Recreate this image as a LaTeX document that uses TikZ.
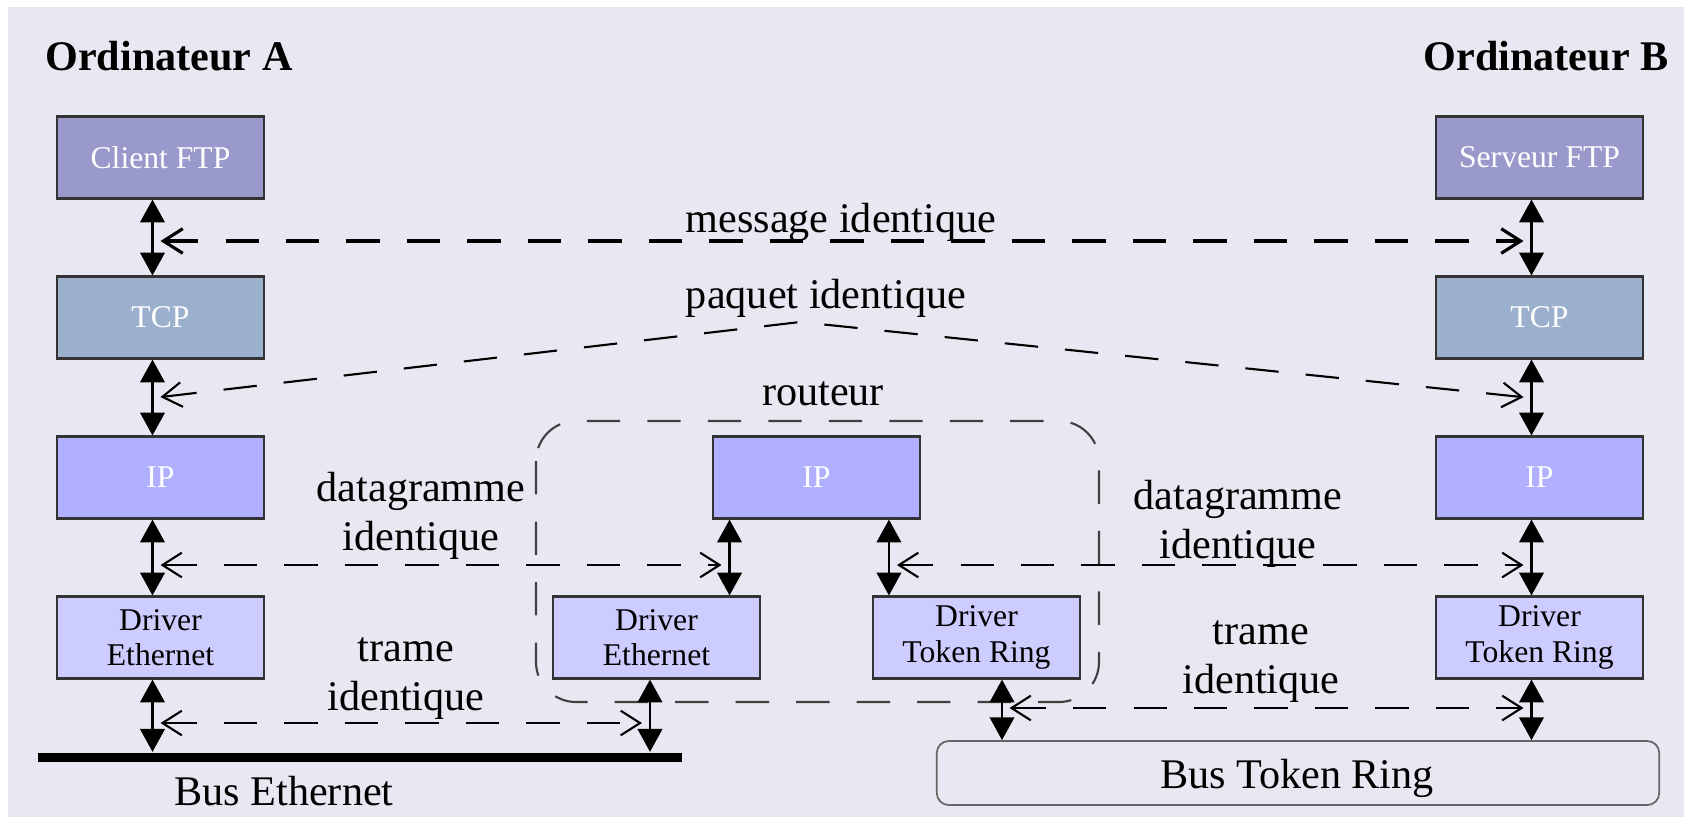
\documentclass[tikz,border=0pt]{standalone}
\usepackage{fontspec}
\setmainfont{Liberation Serif}
\usetikzlibrary{arrows.meta}

\definecolor{fond}{RGB}{232,232,242}
\definecolor{appli}{RGB}{153,153,204}
\definecolor{transp}{RGB}{155,176,204}
\definecolor{reseau}{RGB}{176,176,255}
\definecolor{liaison}{RGB}{204,204,255}

\begin{document}
\begin{tikzpicture}[x=0.01cm, y=-0.01cm,
  couche/.style={draw=black!80, line width=0.6pt, minimum width=2.07cm,
    minimum height=0.82cm, inner sep=0pt, align=center,
    font=\fontsize{9}{10}\selectfont},
  appl/.style={couche, fill=appli, text=white},
  tcp/.style={couche, fill=transp, text=white},
  ip/.style={couche, fill=reseau, text=white},
  drv/.style={couche, fill=liaison, text=black},
  lbl/.style={font=\fontsize{12}{13.8}\selectfont, align=center, inner sep=0pt},
  titre/.style={font=\bfseries\fontsize{12}{14}\selectfont, inner sep=0pt},
  pile/.style={{Triangle[length=6.5pt,width=7pt]}-{Triangle[length=6.5pt,width=7pt]},
    line width=0.6pt},
  echange/.style={{Straight Barb[length=5.5pt,width=7pt]}-{Straight Barb[length=5.5pt,width=7pt]},
    line width=0.6pt, dash pattern=on 9.5pt off 7.7pt,
    shorten <=0.08cm, shorten >=0.08cm}
]

% Background
\fill[white] (0,0) rectangle (1684,817);
\fill[fond] (8,7) rectangle (1684,817);
\useasboundingbox (0,0) rectangle (1684,817);

% Router outline
\draw[black!75, line width=0.6pt, dash pattern=on 9.5pt off 7.7pt,
  rounded corners=0.4cm] (536,421) rectangle (1099,702);
\node[lbl, anchor=base] (routeur) at (823,405) {routeur};

% Ordinateur A
\node[titre, anchor=base] (ordA) at (169,70) {Ordinateur A};
\node[appl] (ftpA) at (160.5,157.5) {Client FTP};
\node[tcp]  (tcpA) at (160.5,317.5) {TCP};
\node[ip]   (ipA)  at (160.5,477.5) {IP};
\node[drv]  (drvA) at (160.5,637.5) {Driver\\Ethernet};

% Ordinateur B
\node[titre, anchor=base] (ordB) at (1546,70) {Ordinateur B};
\node[appl] (ftpB) at (1539.5,157.5) {Serveur FTP};
\node[tcp]  (tcpB) at (1539.5,317.5) {TCP};
\node[ip]   (ipB)  at (1539.5,477.5) {IP};
\node[drv]  (drvB) at (1539.5,637.5) {Driver\\Token Ring};

% Router layers
\node[ip]  (ipR)   at (816.5,477.5) {IP};
\node[drv] (drvRE) at (656.5,637.5) {Driver\\Ethernet};
\node[drv] (drvRT) at (976.5,637.5) {Driver\\Token Ring};

% Buses
\node[fill=black, minimum width=6.44cm, minimum height=0.09cm, inner sep=0pt]
  (busE) at (360,757) {};
\node[lbl, anchor=base] (busElbl) at (284,805) {Bus Ethernet};
\node[draw=black!60, line width=0.5pt, fill=fond, rounded corners=0.12cm,
  minimum width=7.22cm, minimum height=0.64cm] (busT) at (1298,773) {};
\node[lbl, anchor=base] (busTlbl) at (1297,788) {Bus Token Ring};

% Stack arrows
\foreach \c in {A,B} {
  \draw[pile] ([xshift=-0.08cm]ftp\c.south) -- ([xshift=-0.08cm]tcp\c.north);
  \draw[pile] ([xshift=-0.08cm]tcp\c.south) -- ([xshift=-0.08cm]ip\c.north);
  \draw[pile] ([xshift=-0.08cm]ip\c.south) -- ([xshift=-0.08cm]drv\c.north);
}
\draw[pile] ([xshift=-0.08cm]drvA.south) -- ([xshift=-0.08cm]drvA.south |- busE.north);
\draw[pile] ([xshift=-0.08cm]drvB.south) -- ([xshift=-0.08cm]drvB.south |- busT.north);
\draw[pile] ([xshift=0.73cm]drvRE.north |- ipR.south) -- ([xshift=0.73cm]drvRE.north);
\draw[pile] ([xshift=-0.875cm]drvRT.north |- ipR.south) -- ([xshift=-0.875cm]drvRT.north);
\draw[pile] ([xshift=-0.065cm]drvRE.south) -- ([xshift=-0.065cm]drvRE.south |- busE.north);
\draw[pile] ([xshift=0.255cm]drvRT.south) -- ([xshift=0.255cm]drvRT.south |- busT.north);

% End points of the peer exchanges
\coordinate (msgA) at (152.5,241);
\coordinate (msgB) at (1531.5,241);
\coordinate (pqtA) at (152.5,398);
\coordinate (pqtH) at (800,322);
\coordinate (pqtB) at (1531.5,398);
\coordinate (dgA)  at (152.5,565);
\coordinate (dgR1) at (729.5,565);
\coordinate (dgR2) at (889,565);
\coordinate (dgB)  at (1531.5,565);
\coordinate (trA)  at (152.5,723);
\coordinate (trR1) at (650,723);
\coordinate (trR2) at (1001.5,708);
\coordinate (trB)  at (1531.5,708);

% Peer exchanges
\draw[echange, line width=0.9pt] (msgA) -- (msgB);
\draw[echange] (pqtA) -- (pqtH) -- (pqtB);
\draw[echange] (dgA) -- (dgR1);
\draw[echange] (dgR2) -- (dgB);
\draw[echange] (trA) -- (trR1);
\draw[echange] (trR2) -- (trB);

% Labels (base = last line)
\node[lbl, anchor=base] (lmsg) at (841,232) {message identique};
\node[lbl, anchor=base] (lpqt) at (826,308) {paquet identique};
\node[lbl, anchor=base] (ldgA) at (421,550) {datagramme\\identique};
\node[lbl, anchor=base] (ldgB) at (1238,558) {datagramme\\identique};
\node[lbl, anchor=base] (ltrA) at (406,710) {trame\\identique};
\node[lbl, anchor=base] (ltrB) at (1261,693) {trame\\identique};

\end{tikzpicture}
\end{document}
